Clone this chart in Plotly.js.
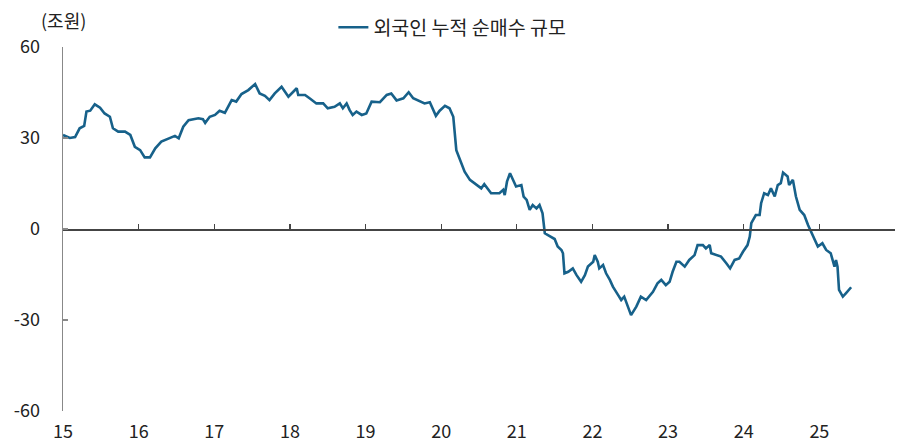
<!DOCTYPE html>
<html>
<head>
<meta charset="utf-8">
<script src="https://cdn.plot.ly/plotly-3.0.1.min.js"></script>
<style>html,body{margin:0;padding:0;background:#fff;}#chart{width:899px;height:446px;}</style>
</head>
<body>
<div id="chart"></div>
<script>
// time in decimal years (15 = 2015), value in 조원
const seriesName = "외국인 누적 순매수 규모";
const unitLabel = "(조원)";
const xTickVals = [15,16,17,18,19,20,21,22,23,24,25];
const xTickText = ["15","16","17","18","19","20","21","22","23","24","25"];
const yTickVals = [-60,-30,0,30,60];
const yTickText = ["-60","-30","0","30","60"];
const t = [
15.00,15.09,15.16,15.22,15.28,15.31,15.36,15.42,15.49,15.55,15.62,15.66,15.73,15.82,15.89,15.95,
16.02,16.08,16.15,16.22,16.30,16.41,16.48,16.53,16.59,16.66,16.79,16.85,16.88,16.94,
17.01,17.07,17.14,17.23,17.29,17.36,17.45,17.54,17.60,17.67,17.73,17.80,17.89,17.98,
18.09,18.11,18.20,18.26,18.35,18.44,18.50,18.59,18.66,18.70,18.75,18.79,18.83,18.88,18.95,
19.01,19.08,19.19,19.28,19.34,19.41,19.50,19.57,19.63,19.72,19.78,19.85,19.93,19.98,
20.05,20.11,20.16,20.20,20.27,20.31,20.38,20.44,20.53,20.57,20.66,20.77,20.82,20.84,20.87,20.91,20.95,20.99,
21.06,21.09,21.13,21.17,21.21,21.26,21.30,21.34,21.37,21.43,21.50,21.54,21.59,21.61,21.63,21.68,21.74,21.79,21.85,21.90,21.94,
22.01,22.03,22.07,22.09,22.14,22.18,22.23,22.27,22.34,22.38,22.42,22.47,22.51,22.58,22.64,22.71,22.80,22.86,22.91,22.97,
23.02,23.06,23.11,23.15,23.22,23.28,23.35,23.39,23.46,23.50,23.55,23.57,23.64,23.70,23.77,23.82,23.88,23.94,23.99,
24.05,24.08,24.10,24.16,24.21,24.23,24.27,24.32,24.36,24.41,24.45,24.49,24.52,24.58,24.60,24.65,24.69,24.74,24.80,24.85,24.91,24.98,
25.04,25.09,25.15,25.20,25.22,25.24,25.26,25.31,25.35,25.42
];
const v = [
31.0,30.0,30.3,33.2,34.0,38.7,39.0,41.1,40.0,38.1,37.0,33.2,32.1,32.1,31.0,27.1,
26.0,23.6,23.6,26.6,28.8,29.9,30.7,29.9,33.7,35.9,36.5,36.2,35.0,37.0,
37.6,39.0,38.3,42.5,42.0,44.5,45.8,47.8,44.7,43.9,42.5,44.7,46.9,43.6,
46.4,44.2,44.2,43.1,41.4,41.4,39.8,40.3,41.4,39.8,41.4,39.2,37.6,38.7,37.6,
38.1,42.0,41.8,44.2,44.7,42.4,43.1,45.1,43.1,42.2,41.4,41.8,37.3,39.0,
40.6,39.8,37.0,26.0,21.1,18.9,16.2,15.0,13.4,14.8,11.8,11.8,12.9,11.2,15.6,18.4,16.2,14.0,
14.5,10.7,9.6,6.3,7.9,6.8,7.9,5.2,-1.4,-2.2,-3.3,-5.8,-6.9,-8.0,-14.6,-14.1,-13.0,-15.2,-17.4,-15.2,-12.4,
-10.8,-8.6,-10.8,-13.0,-11.9,-14.6,-16.8,-19.0,-21.8,-23.4,-22.3,-25.6,-28.4,-25.6,-22.3,-23.4,-20.7,-17.9,-16.8,-18.5,
-17.4,-14.1,-10.8,-10.8,-12.4,-10.2,-8.6,-5.3,-5.3,-6.4,-5.3,-8.0,-8.6,-9.1,-11.3,-13.0,-10.2,-9.7,-7.5,
-5.3,-2.5,1.9,4.6,4.6,8.5,11.8,11.2,13.4,10.7,14.5,15.1,18.6,17.3,14.5,16.2,10.7,6.3,4.6,1.3,-2.0,-5.8,
-4.7,-6.9,-8.0,-12.4,-10.2,-12.4,-20.1,-22.3,-21.2,-19.2
];

const FONT = '"Noto Sans CJK KR", "Noto Sans", sans-serif';
const TXT = '#222';
const data = [{
  x: t, y: v, type: 'scatter', mode: 'lines', name: seriesName,
  line: {color: '#17618a', width: 2.6},
  xaxis: 'x', yaxis: 'y'
}];
data.push({x: [15, 26], y: [0, 0], xaxis: 'x2', yaxis: 'y', mode: 'lines',
  line: {width: 0}, hoverinfo: 'skip', showlegend: false});
const layout = {
  width: 899, height: 446,
  margin: {l: 63, r: 4, t: 47, b: 35},
  paper_bgcolor: '#fff', plot_bgcolor: '#fff',
  font: {family: FONT, size: 18, color: TXT},
  showlegend: true,
  legend: {orientation: 'h', x: 0.468, xanchor: 'center', y: 1.0, yanchor: 'bottom',
           font: {family: FONT, size: 19.5, color: TXT}, itemwidth: 30},
  xaxis: {
    range: [15, 26], tickvals: xTickVals, ticktext: xTickText,
    showgrid: false, zeroline: false, showline: false, ticks: '',
    ticklabelstandoff: 8,
    tickfont: {family: FONT, size: 18, color: TXT}
  },
  xaxis2: {
    overlaying: 'x', matches: 'x', range: [15, 26], anchor: 'free', position: 0.5,
    tickvals: xTickVals, showticklabels: false, showgrid: false, zeroline: false,
    showline: true, linecolor: '#444', linewidth: 1.5,
    ticks: 'inside', ticklen: 5, tickcolor: '#444', tickwidth: 1.3
  },
  yaxis: {
    range: [-60, 60], tickvals: yTickVals, ticktext: yTickText,
    showgrid: false, zeroline: false,
    showline: true, linecolor: '#888', linewidth: 1.5,
    ticks: 'inside', ticklen: 5, tickcolor: '#888', tickwidth: 1.3,
    ticklabelstandoff: 18,
    tickfont: {family: FONT, size: 18, color: TXT}
  },
  annotations: [{
    text: unitLabel, xref: 'paper', yref: 'paper', x: 0, y: 1.0, yshift: 27,
    xanchor: 'center', yanchor: 'middle', showarrow: false,
    font: {family: FONT, size: 18, color: TXT}
  }]
};
Plotly.newPlot('chart', data, layout, {displayModeBar: false, staticPlot: true});
</script>
</body>
</html>
